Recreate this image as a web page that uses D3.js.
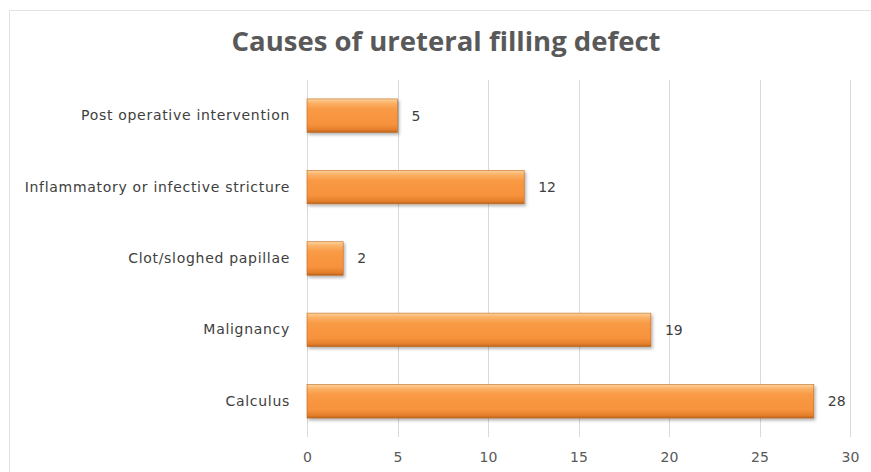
<!DOCTYPE html>
<html><head><meta charset="utf-8">
<script src="https://cdn.jsdelivr.net/npm/d3@7"></script>
<style>html,body{margin:0;padding:0;background:#fff;}svg{display:block;}</style>
</head><body>
<script>
const categories = ["Post operative intervention","Inflammatory or infective stricture","Clot/sloghed papillae","Malignancy","Calculus"];
const values = [5, 12, 2, 19, 28];
const xTicks = [0, 5, 10, 15, 20, 25, 30];
const title = "Causes of ureteral filling defect";

const W = 871, H = 472;
const svg = d3.select("body").append("svg").attr("width", W).attr("height", H);

const defs = svg.append("defs");
const g1 = defs.append("linearGradient").attr("id","barGrad").attr("x1",0).attr("y1",0).attr("x2",0).attr("y2",1);
[[0,"#fdd49c"],[0.12,"#fbb268"],[0.3,"#f99a45"],[0.75,"#f7923c"],[0.92,"#e47e2c"],[1,"#b8621c"]].forEach(([o,c])=>g1.append("stop").attr("offset",o).attr("stop-color",c));
const filt = defs.append("filter").attr("id","shadow").attr("x","-5%").attr("y","-20%").attr("width","115%").attr("height","160%");
filt.append("feDropShadow").attr("dx",1.5).attr("dy",2).attr("stdDeviation",1.5).attr("flood-color","#000").attr("flood-opacity",0.3);

// chart border
svg.append("rect").attr("x",9.5).attr("y",10.5).attr("width",W+10).attr("height",H+10)
  .attr("fill","none").attr("stroke","#e3e3e3").attr("stroke-width",1);

const x = d3.scaleLinear().domain([0,30]).range([307,850]);
const y = d3.scaleBand().domain(categories).range([80,437]).paddingInner(0.53).paddingOuter(0.265);

const labelFont = "'DejaVu Sans', Verdana, sans-serif";

// gridlines
svg.append("g").selectAll("line").data(xTicks).join("line")
  .attr("x1",d=>Math.round(x(d))+0.5).attr("x2",d=>Math.round(x(d))+0.5)
  .attr("y1",80).attr("y2",437).attr("stroke","#d9d9d9").attr("stroke-width",1);

// x axis labels
const xAxis = d3.axisBottom(x).tickValues(xTicks).tickSize(0).tickPadding(0);
const gx = svg.append("g").attr("transform","translate(0,452)").call(xAxis);
gx.select(".domain").remove();
gx.selectAll("text").attr("font-family",labelFont).attr("font-size",14).attr("fill","#595959").attr("dy","0.71em");

// y labels
const yAxis = d3.axisLeft(y).tickSize(0).tickPadding(17);
const gy = svg.append("g").attr("transform","translate(307,0)").call(yAxis);
gy.select(".domain").remove();
gy.selectAll("text").attr("font-family",labelFont).attr("font-size",14).attr("letter-spacing","0.7px").attr("fill","#404040");

// bars
const bars = svg.append("g");
bars.selectAll("rect").data(values).join("rect")
  .attr("x",x(0)).attr("y",(d,i)=>y(categories[i]))
  .attr("width",d=>x(d)-x(0)).attr("height",y.bandwidth())
  .attr("fill","url(#barGrad)").attr("filter","url(#shadow)")
  .attr("stroke","#c06a22").attr("stroke-width",0.6);

// value labels
svg.append("g").selectAll("text").data(values).join("text")
  .attr("x",d=>x(d)+14).attr("y",(d,i)=>y(categories[i])+y.bandwidth()/2)
  .attr("dy","0.35em").text(d=>d)
  .attr("font-family",labelFont).attr("font-size",14).attr("fill","#404040");

// title
svg.append("text").attr("x",446).attr("y",51).attr("text-anchor","middle")
  .attr("font-family","'Open Sans', sans-serif").attr("font-weight","bold").attr("font-size",27.5)
  .attr("fill","#595959").text(title);
</script>
</body></html>
